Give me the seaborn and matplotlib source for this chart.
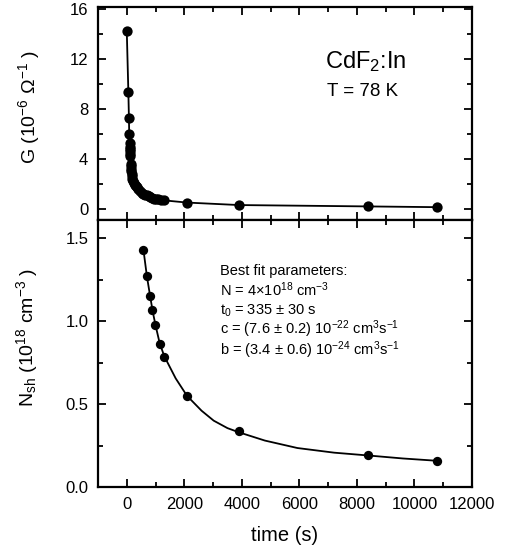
import numpy as np
import pandas as pd
import matplotlib
matplotlib.use("Agg")
import matplotlib.pyplot as plt
from matplotlib.ticker import MultipleLocator
import seaborn as sns

# ---- data ----
t_G = [0, 55, 75, 85, 95, 100, 105, 110, 115, 120, 130, 135, 145, 155, 165, 180,
       195, 215, 240, 280, 320, 350, 400, 450, 520, 580, 640, 700, 760, 820, 880,
       930, 1000, 1080, 1180, 1280, 2093, 3895, 8396, 10792]
G = [14.3, 9.4, 7.3, 6.0, 5.3, 5.0, 4.8, 4.6, 4.4, 4.2, 3.6, 3.4, 3.2, 3.0, 2.8, 2.6,
     2.4, 2.2, 2.05, 1.95, 1.85, 1.74, 1.55, 1.42, 1.3, 1.2, 1.13, 1.07, 1.0, 0.94, 0.88,
     0.82, 0.79, 0.75, 0.71, 0.68, 0.5, 0.3, 0.19, 0.13]

t_N = [580, 698, 813, 894, 987, 1138, 1301, 2093, 3895, 8396, 10792]
N_sh = [1.43, 1.27, 1.15, 1.065, 0.975, 0.865, 0.785, 0.55, 0.34, 0.19, 0.155]

t_fit = [580, 700, 813, 900, 1000, 1140, 1300, 1700, 2093, 2600, 3022, 3500, 3895,
         4800, 5932, 7209, 8396, 9600, 10792]
N_fit = [1.43, 1.27, 1.15, 1.06, 0.975, 0.87, 0.79, 0.655, 0.55, 0.46, 0.40, 0.355,
         0.33, 0.28, 0.235, 0.207, 0.19, 0.172, 0.158]

x_ticks = [0, 2000, 4000, 6000, 8000, 10000, 12000]
G_ticks = [0, 4, 8, 12, 16]
N_ticks = [0.0, 0.5, 1.0, 1.5]

sns.set_style("ticks", {"axes.edgecolor": "black", "xtick.color": "black",
                        "ytick.color": "black", "text.color": "black",
                        "axes.labelcolor": "black"})
plt.rcParams['font.family'] = ['Liberation Sans', 'DejaVu Sans']
plt.rcParams['mathtext.fontset'] = 'custom'
plt.rcParams['mathtext.rm'] = 'Liberation Sans'
plt.rcParams['mathtext.it'] = 'Liberation Sans:italic'
plt.rcParams['mathtext.bf'] = 'Liberation Sans:bold'

fig = plt.figure(figsize=(5.05, 5.48), dpi=100)
L, R = 98 / 505, 472 / 505
ax1 = fig.add_axes([L, 1 - 220 / 548, R - L, (220 - 7) / 548])
ax2 = fig.add_axes([L, 1 - 487 / 548, R - L, (487 - 220) / 548])

dfG = pd.DataFrame({"t": t_G, "G": G})
dfN = pd.DataFrame({"t": t_N, "N": N_sh})
dfF = pd.DataFrame({"t": t_fit, "N": N_fit})

sns.lineplot(data=dfG, x="t", y="G", ax=ax1, color="black", lw=1.3, sort=False)
sns.scatterplot(data=dfG, x="t", y="G", ax=ax1, color="black", s=55, edgecolor="black",
                linewidth=0, zorder=3)

sns.lineplot(data=dfF, x="t", y="N", ax=ax2, color="black", lw=1.3, sort=False)
sns.scatterplot(data=dfN, x="t", y="N", ax=ax2, color="black", s=45, edgecolor="black",
                linewidth=0, zorder=3)

for ax in (ax1, ax2):
    ax.set_xlim(-1000, 12000)
    ax.xaxis.set_major_locator(MultipleLocator(2000))
    ax.xaxis.set_minor_locator(MultipleLocator(1000))
    ax.tick_params(which="both", direction="in", top=True, right=True, width=1.3,
                   labelsize=12, colors="black")
    ax.tick_params(which="major", length=6)
    ax.tick_params(which="minor", length=3.5)
    for s in ax.spines.values():
        s.set_linewidth(1.6)
        s.set_color("black")
    ax.set_xlabel("")
    ax.set_ylabel("")

ax1.set_ylim(-0.9, 16.2)
ax1.set_yticks(G_ticks)
ax1.yaxis.set_minor_locator(MultipleLocator(2))
ax1.tick_params(axis="x", labelbottom=False)
ax1.tick_params(axis="y", pad=7)

ax2.set_ylim(0, 1.61)
ax2.set_yticks(N_ticks)
ax2.set_yticklabels(["0.0", "0.5", "1.0", "1.5"])
ax2.yaxis.set_minor_locator(MultipleLocator(0.25))
ax2.set_xticks(x_ticks)
ax2.set_xticklabels([str(v) for v in x_ticks])
ax2.tick_params(axis="y", pad=7)
ax2.tick_params(axis="x", pad=7)

ax1.set_ylabel("G (10$^{-6}$ Ω$^{-1}$ )", fontsize=14)
ax1.yaxis.set_label_coords(-0.15, 0.53)
ax2.set_ylabel("N$_{\\rm sh}$ (10$^{18}$ cm$^{-3}$ )", fontsize=14)
ax2.yaxis.set_label_coords(-0.155, 0.56)
ax2.set_xlabel("time (s)", fontsize=14.5)
ax2.xaxis.set_label_coords(0.5, -0.145)

fig.text(325 / 505, 1 - 62 / 548, "CdF$_2$:In", fontsize=17, va="center", ha="left")
fig.text(327 / 505, 1 - 92 / 548, "T = 78 K", fontsize=13.5, va="center", ha="left")

lines = ["Best fit parameters:",
         "N = 4×10$^{18}$ cm$^{-3}$",
         "t$_0$ = 335 ± 30 s",
         "c = (7.6 ± 0.2) 10$^{-22}$ cm$^3$s$^{-1}$",
         "b = (3.4 ± 0.6) 10$^{-24}$ cm$^3$s$^{-1}$"]
ys = [275, 296, 315, 334, 355]
for txt, yy in zip(lines, ys):
    fig.text(220 / 505, 1 - yy / 548, txt, fontsize=10.5, va="baseline", ha="left")

fig.savefig("out.png", dpi=100)
